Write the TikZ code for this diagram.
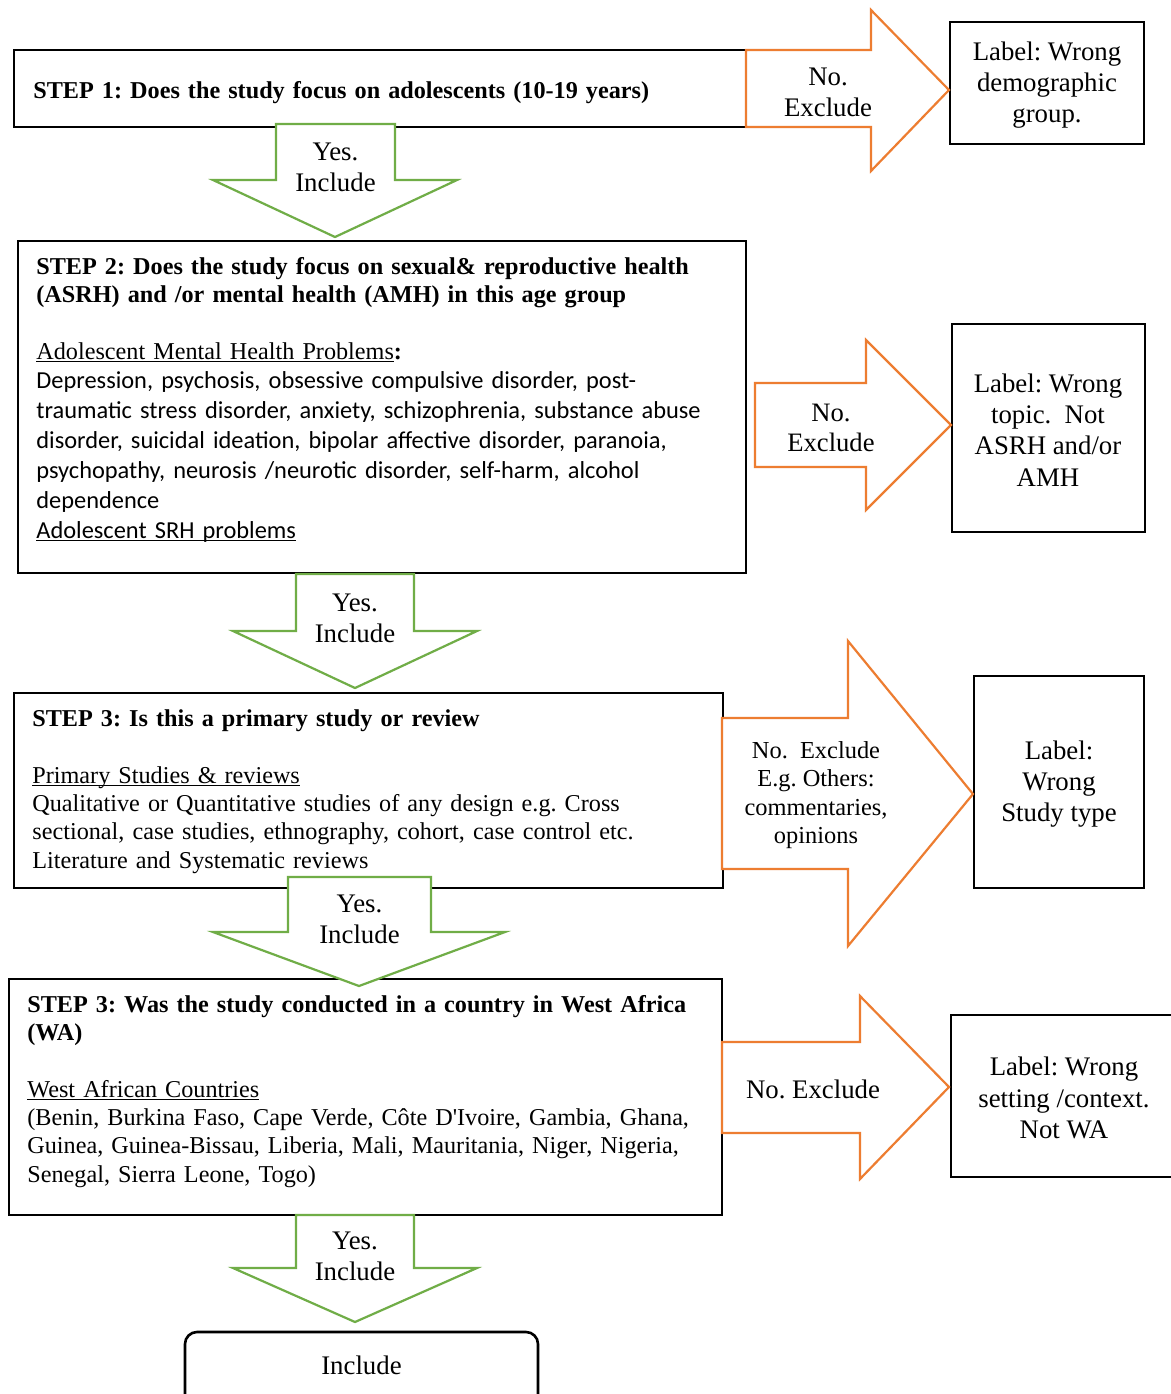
\documentclass[tikz,border=0pt]{standalone}
\usepackage{fontspec}
\setmainfont{Liberation Serif}
\newfontfamily\calib{Carlito}
\definecolor{oarrow}{RGB}{237,125,49}
\definecolor{garrow}{RGB}{112,173,71}
\newcommand\uln[1]{\underline{\smash{#1}}}
\frenchspacing
\begin{document}
\frenchspacing
\begin{tikzpicture}[x=0.5pt,y=-0.5pt,
  box/.style={draw=black, line width=1.3pt, inner sep=0pt, fill=white},
  yesarrow/.style={draw=garrow, line width=1.1pt, fill=white, line join=miter},
  noarrow/.style={draw=oarrow, line width=1.1pt, fill=white, line join=miter},
  steptxt/.style={anchor=base west, inner sep=0pt, text width=352pt, align=left,
    font=\frenchspacing\fontsize{12.1}{14.1}\selectfont},
  listtxt/.style={anchor=base west, inner sep=0pt, text width=352pt, align=left,
    font=\frenchspacing\calib\fontsize{12.2}{15}\selectfont},
  labtxt/.style={align=center, inner sep=0pt, font=\frenchspacing\fontsize{13.4}{15.6}\selectfont},
  smalltxt/.style={align=center, inner sep=0pt, font=\frenchspacing\fontsize{12.2}{14.2}\selectfont}]
\clip (0,0) rectangle (1171,1394);
\fill[white] (0,0) rectangle (1171,1394);

% ---------- boxes ----------
\node[box, minimum width=366pt, minimum height=38.5pt] (s1) at (380,88.5) {};
\node[box, minimum width=364pt, minimum height=166pt] (s2) at (382,407) {};
\node[box, minimum width=354.5pt, minimum height=97.5pt] (s3) at (368.5,790.5) {};
\node[box, minimum width=356.5pt, minimum height=118pt] (s4) at (365.5,1097) {};
\node[box, minimum width=97pt, minimum height=61pt] (l1) at (1047,83) {};
\node[box, minimum width=96.5pt, minimum height=104pt] (l2) at (1048.5,428) {};
\node[box, minimum width=85pt, minimum height=106pt] (l3) at (1059,782) {};
\node[box, minimum width=112pt, minimum height=81pt] (l4) at (1063,1096) {};
\node[box, rounded corners=6pt, minimum width=176.5pt, minimum height=39pt] (inc) at (361.5,1371) {};

% ---------- orange "No" arrows ----------
\draw[noarrow] (746,50) -- (871,50) -- (871,10) -- (949,90) -- (871,171) -- (871,127) -- (746,127) -- cycle;
\draw[noarrow] (755,383) -- (866,383) -- (866,340) -- (951,425) -- (866,510) -- (866,467) -- (755,467) -- cycle;
\draw[noarrow] (722,718) -- (848,718) -- (848,641) -- (973,794) -- (848,946) -- (848,869) -- (722,869) -- cycle;
\draw[noarrow] (722,1042) -- (860,1042) -- (860,996) -- (949,1087) -- (860,1179) -- (860,1133) -- (722,1133) -- cycle;

% ---------- green "Yes" arrows ----------
\draw[yesarrow] (276,124) -- (276,180) -- (213,180) -- (335,237) -- (457,180) -- (395,180) -- (395,124) -- cycle;
\draw[yesarrow] (296,574) -- (296,631) -- (233,631) -- (355,688) -- (477,631) -- (414,631) -- (414,574) -- cycle;
\draw[yesarrow] (288,877) -- (288,932) -- (213,932) -- (359,986) -- (505,932) -- (431,932) -- (431,877) -- cycle;
\draw[yesarrow] (296,1215) -- (296,1268) -- (233,1268) -- (355,1322) -- (477,1268) -- (414,1268) -- (414,1215) -- cycle;

% ---------- step texts ----------
\node[steptxt] (t1) at (33,98) {\textbf{STEP 1: Does the study focus on adolescents (10-19 years)}};

\node[steptxt] (t2h) at (36,274) {\textbf{STEP 2: Does the study focus on sexual\& reproductive health}\\
\textbf{(ASRH) and /or mental health (AMH) in this age group}};
\node[steptxt] (t2s) at (36,359) {\uln{Adolescent Mental Health Problems}\textbf{:}};
\node[listtxt] (t2l) at (36,388) {Depression, psychosis, obsessive compulsive disorder, post-\\
traumatic stress disorder, anxiety, schizophrenia, substance abuse\\
disorder, suicidal ideation, bipolar affective disorder, paranoia,\\
psychopathy, neurosis /neurotic disorder, self-harm, alcohol\\
dependence\\
\uln{Adolescent SRH problems}};

\node[steptxt] (t3h) at (32,726) {\textbf{STEP 3: Is this a primary study or review}};
\node[steptxt, font=\frenchspacing\fontsize{12.1}{14.2}\selectfont] (t3b) at (32,783) {\uln{Primary Studies \& reviews}\\
Qualitative or Quantitative studies of any design e.g. Cross\\
sectional, case studies, ethnography, cohort, case control etc.\\
Literature and Systematic reviews};

\node[steptxt] (t4h) at (27,1012) {\textbf{STEP 3: Was the study conducted in a country in West Africa}\\
\textbf{(WA)}};
\node[steptxt, font=\frenchspacing\fontsize{12.1}{14.2}\selectfont] (t4b) at (27,1097) {\uln{West African Countries}\\
(Benin, Burkina Faso, Cape Verde, Côte D\textquotesingle Ivoire, Gambia, Ghana,\\
Guinea, Guinea-Bissau, Liberia, Mali, Mauritania, Niger, Nigeria,\\
Senegal, Sierra Leone, Togo)};

% ---------- label texts ----------
\node[labtxt] (lt1) at (1047,85) {Label: Wrong\\demographic\\group.};
\node[labtxt] (lt2) at (1048,430) {Label: Wrong\\topic.~ Not\\ASRH and/or\\AMH};
\node[labtxt] (lt3) at (1059,784) {Label:\\Wrong\\Study type};
\node[labtxt] (lt4) at (1064,1098) {Label: Wrong\\setting /context.\\Not WA};

% ---------- arrow texts ----------
\node[labtxt] (o1t) at (828,92.5) {No.\\Exclude};
\node[labtxt, font=\frenchspacing\fontsize{13.3}{15}\selectfont] (o2t) at (831,427.5) {No.\\Exclude};
\node[smalltxt] (o3t) at (816,795) {No.~ Exclude\\E.g. Others:\\commentaries,\\opinions};
\node[labtxt] (o4t) at (813,1089) {No. Exclude};

\node[labtxt] (g1t) at (335.5,167.5) {Yes.\\Include};
\node[labtxt] (g2t) at (355,618.5) {Yes.\\Include};
\node[labtxt] (g3t) at (359.5,919.5) {Yes.\\Include};
\node[labtxt] (g4t) at (355,1256.5) {Yes.\\Include};

\node[labtxt] (inct) at (361.5,1365) {Include};
\end{tikzpicture}
\end{document}
